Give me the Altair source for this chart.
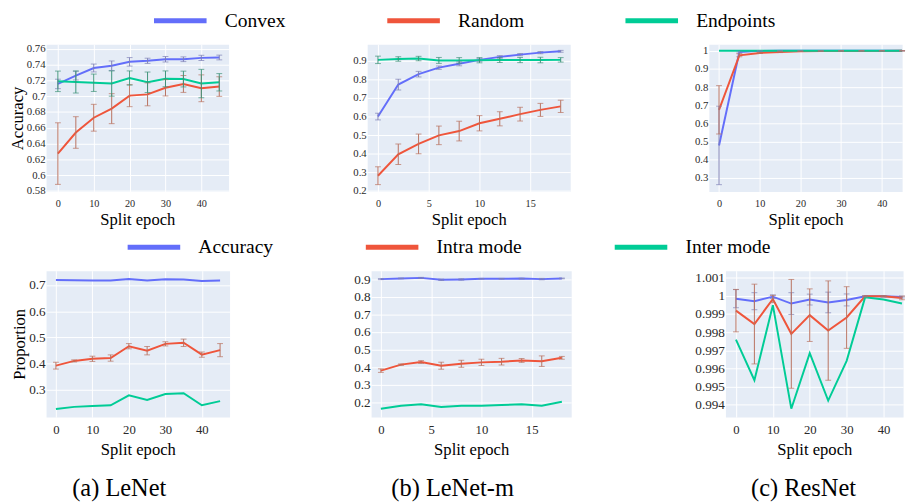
import altair as alt
import pandas as pd

# ---------------- data ----------------
lenet_epochs = [0, 5, 10, 15, 20, 25, 30, 35, 40, 45]
lenetm_epochs = [0, 2, 4, 6, 8, 10, 12, 14, 16, 18]
resnet_epochs = [0, 5, 10, 15, 20, 25, 30, 35, 40, 45]

top_series = ["Convex", "Random", "Endpoints"]
bottom_series = ["Accuracy", "Intra mode", "Inter mode"]

x_ticks_a = [0, 10, 20, 30, 40]
x_ticks_b = [0, 5, 10, 15]
y_ticks_a_top = [0.58, 0.6, 0.62, 0.64, 0.66, 0.68, 0.7, 0.72, 0.74, 0.76]
y_ticks_b_top = [0.2, 0.3, 0.4, 0.5, 0.6, 0.7, 0.8, 0.9]
y_ticks_c_top = [0.3, 0.4, 0.5, 0.6, 0.7, 0.8, 0.9, 1.0]
y_ticks_a_bot = [0.3, 0.4, 0.5, 0.6, 0.7]
y_ticks_b_bot = [0.2, 0.3, 0.4, 0.5, 0.6, 0.7, 0.8, 0.9]
y_ticks_c_bot = [0.994, 0.995, 0.996, 0.997, 0.998, 0.999, 1.0, 1.001]

# LeNet accuracy
lenet_convex = [0.7155, 0.726, 0.7357, 0.7386, 0.7435, 0.7448, 0.7468, 0.7468, 0.7485, 0.749]
lenet_convex_err = [0.006, 0.0055, 0.005, 0.006, 0.0054, 0.0033, 0.0035, 0.003, 0.0033, 0.003]
lenet_random = [0.6273, 0.654, 0.6727, 0.6842, 0.7007, 0.7023, 0.7106, 0.7155, 0.710, 0.7122]
lenet_random_err = [0.039, 0.020, 0.017, 0.019, 0.014, 0.0145, 0.0103, 0.0107, 0.017, 0.0124]
lenet_endpoints = [0.7188, 0.718, 0.717, 0.716, 0.723, 0.7176, 0.722, 0.7217, 0.716, 0.7176]
lenet_endpoints_err = [0.013, 0.014, 0.011, 0.016, 0.009, 0.013, 0.010, 0.010, 0.018, 0.011]

# LeNet-m accuracy
lenetm_convex = [0.600, 0.772, 0.828, 0.863, 0.884, 0.905, 0.921, 0.933, 0.944, 0.951]
lenetm_convex_err = [0.018, 0.029, 0.015, 0.009, 0.011, 0.008, 0.007, 0.006, 0.006, 0.005]
lenetm_random = [0.282, 0.397, 0.453, 0.499, 0.522, 0.564, 0.588, 0.613, 0.636, 0.655]
lenetm_random_err = [0.048, 0.055, 0.053, 0.050, 0.053, 0.041, 0.038, 0.037, 0.035, 0.033]
lenetm_endpoints = [0.905, 0.910, 0.912, 0.902, 0.902, 0.903, 0.904, 0.904, 0.904, 0.905]
lenetm_endpoints_err = [0.020, 0.012, 0.012, 0.016, 0.015, 0.014, 0.013, 0.014, 0.015, 0.012]

# ResNet accuracy
resnet_convex = [0.479, 0.993, 0.9993, 0.9996, 0.9998, 0.9998, 0.9999, 0.9999, 0.9999, 0.9999]
resnet_convex_err = [0.216, 0.005, 0.001, 0.0005, 0.0003, 0.0002, 0.0002, 0.0001, 0.0001, 0.0001]
resnet_random = [0.675, 0.975, 0.988, 0.993, 0.997, 0.998, 0.999, 0.9993, 0.9995, 0.9996]
resnet_random_err = [0.133, 0.008, 0.003, 0.003, 0.001, 0.0008, 0.0005, 0.0004, 0.0003, 0.0003]
resnet_endpoints = [0.9999, 1.0, 1.0, 1.0, 1.0, 1.0, 1.0, 1.0, 1.0, 1.0]
resnet_endpoints_err = [0, 0, 0, 0, 0, 0, 0, 0, 0, 0]

# LeNet proportions
lenet_acc = [0.719, 0.718, 0.717, 0.717, 0.723, 0.717, 0.722, 0.721, 0.715, 0.717]
lenet_acc_err = [0, 0, 0, 0, 0, 0, 0, 0, 0, 0]
lenet_intra = [0.393, 0.411, 0.419, 0.422, 0.467, 0.450, 0.476, 0.480, 0.435, 0.452]
lenet_intra_err = [0.013, 0.004, 0.010, 0.012, 0.010, 0.016, 0.008, 0.014, 0.010, 0.025]
lenet_inter = [0.228, 0.236, 0.239, 0.242, 0.280, 0.262, 0.285, 0.288, 0.242, 0.258]
lenet_inter_err = [0, 0, 0, 0, 0, 0, 0, 0, 0, 0]

# LeNet-m proportions
lenetm_acc = [0.902, 0.906, 0.909, 0.898, 0.900, 0.904, 0.904, 0.905, 0.902, 0.906]
lenetm_acc_err = [0.003, 0.002, 0.003, 0.004, 0.004, 0.002, 0.002, 0.002, 0.004, 0.002]
lenetm_intra = [0.380, 0.414, 0.429, 0.408, 0.419, 0.427, 0.431, 0.438, 0.434, 0.453]
lenetm_intra_err = [0.010, 0.004, 0.008, 0.020, 0.020, 0.018, 0.019, 0.011, 0.030, 0.008]
lenetm_inter = [0.162, 0.180, 0.188, 0.173, 0.180, 0.180, 0.184, 0.188, 0.180, 0.202]
lenetm_inter_err = [0, 0, 0, 0, 0, 0, 0, 0, 0, 0]

# ResNet proportions
resnet_acc = [0.99985, 0.99971, 0.99996, 0.99958, 0.9998, 0.99964, 0.99978, 0.99998, 0.99998, 0.99994]
resnet_acc_err = [0.0005, 0.00047, 0.0001, 0.0006, 0.0003, 0.00057, 0.00033, 0.00003, 0.00003, 0.00005]
resnet_intra = [0.99919, 0.99845, 0.99983, 0.99791, 0.99894, 0.99809, 0.99881, 0.99998, 0.99998, 0.99989]
resnet_intra_err = [0.00117, 0.0022, 0.0002, 0.003, 0.00145, 0.00274, 0.0017, 0.00003, 0.00003, 0.0001]
resnet_inter = [0.99759, 0.99535, 0.99949, 0.99378, 0.99684, 0.99423, 0.99642, 0.99992, 0.9998, 0.99958]
resnet_inter_err = [0, 0, 0, 0, 0, 0, 0, 0, 0, 0]

# ---------------- style ----------------
line_colors = ["#636EFA", "#EF553B", "#00CC96"]
bar_colors = ["#7E80B6", "#B8705E", "#3D9278"]
FONT = "Liberation Serif"


def make_legend(x, y, pad):
    return alt.Legend(
        title=None, orient="none", legendX=x, legendY=y, direction="horizontal",
        symbolType="stroke", symbolStrokeWidth=5, symbolSize=2900, clipHeight=20,
        labelFont=FONT, labelFontSize=20, labelColor="black", labelOffset=16,
        columnPadding=pad, padding=0, labelLimit=300,
    )


def panel(epochs, names, means, errs, xdom, ydom, xticks, yticks, w, h,
          ytitle, ylab, xlab, legend, xlabpad, xtitlepad, caption=None, cap_dx=0):
    rows = []
    for name, m, e in zip(names, means, errs):
        for xi, mi, ei in zip(epochs, m, e):
            rows.append({"epoch": xi, "value": mi, "lo": mi - ei, "hi": mi + ei,
                         "err": ei, "series": name})
    df = pd.DataFrame(rows)
    base = alt.Chart(df)

    xaxis = alt.Axis(values=xticks, title="Split epoch", labelFontSize=xlab,
                     labelFlush=False, labelPadding=xlabpad, titlePadding=xtitlepad)
    yaxis = alt.Axis(values=yticks, title=ytitle if ytitle else "", format="~g",
                     labelFontSize=ylab, labelFlush=False, labelPadding=1, titlePadding=0)
    xs = alt.Scale(domain=xdom, nice=False, zero=False)
    ys = alt.Scale(domain=ydom, nice=False, zero=False)

    def X():
        return alt.X("epoch:Q", scale=xs, axis=xaxis)

    def Y(field):
        return alt.Y(field, scale=ys, axis=yaxis)

    layers = []
    for name, bc in zip(names, bar_colors):
        sub = base.transform_filter(alt.datum.series == name).transform_filter(alt.datum.err > 0)
        layers.append(sub.mark_rule(color=bc, strokeWidth=1).encode(x=X(), y=Y("lo:Q"), y2="hi:Q"))
        layers.append(sub.mark_tick(color=bc, orient="horizontal", size=6, thickness=1).encode(x=X(), y=Y("lo:Q")))
        layers.append(sub.mark_tick(color=bc, orient="horizontal", size=6, thickness=1).encode(x=X(), y=Y("hi:Q")))
    line = base.mark_line(strokeWidth=2).encode(
        x=X(), y=Y("value:Q"),
        color=alt.Color("series:N", scale=alt.Scale(domain=names, range=line_colors), legend=legend),
    )
    layers.insert(0, line)
    ch = alt.layer(*layers).properties(width=w, height=h)
    if caption:
        ch = ch.properties(title=alt.TitleParams(caption, orient="bottom", font=FONT, fontSize=25,
                                                 fontWeight="normal", color="black", dx=cap_dx, offset=20))
    return ch


leg_top = make_legend(108, -34, 101)
leg_bot = make_legend(81, -34, 92)

tl = panel(lenet_epochs, top_series,
           [lenet_convex, lenet_random, lenet_endpoints],
           [lenet_convex_err, lenet_random_err, lenet_endpoints_err],
           [-3.3, 47.6], [0.5791, 0.7658], x_ticks_a, y_ticks_a_top, 187, 151,
           "Accuracy", 11, 10.5, leg_top, 7, 3)
tm = panel(lenetm_epochs, top_series,
           [lenetm_convex, lenetm_random, lenetm_endpoints],
           [lenetm_convex_err, lenetm_random_err, lenetm_endpoints_err],
           [-1.06, 18.94], [0.1964, 0.989], x_ticks_b, y_ticks_b_top, 208, 151,
           None, 11, 10.5, leg_top, 7, 3)
tr = panel(resnet_epochs, top_series,
           [resnet_convex, resnet_random, resnet_endpoints],
           [resnet_convex_err, resnet_random_err, resnet_endpoints_err],
           [-2.5, 45.0], [0.2248, 1.036], x_ticks_a, y_ticks_c_top, 198, 151,
           None, 11, 10.5, leg_top, 7, 3)

bl = panel(lenet_epochs, bottom_series,
           [lenet_acc, lenet_intra, lenet_inter],
           [lenet_acc_err, lenet_intra_err, lenet_inter_err],
           [-2.7, 47.6], [0.197, 0.7546], x_ticks_a, y_ticks_a_bot, 188, 150,
           "Proportion", 13.5, 13, leg_bot, 7, 5, "(a) LeNet", -19)
bm = panel(lenetm_epochs, bottom_series,
           [lenetm_acc, lenetm_intra, lenetm_inter],
           [lenetm_acc_err, lenetm_intra_err, lenetm_inter_err],
           [-0.97, 18.93], [0.1148, 0.950], x_ticks_b, y_ticks_b_bot, 205, 150,
           None, 13.5, 13, leg_bot, 7, 5, "(b) LeNet-m", -19)
br = panel(resnet_epochs, bottom_series,
           [resnet_acc, resnet_intra, resnet_inter],
           [resnet_acc_err, resnet_intra_err, resnet_inter_err],
           [-2.85, 45.3], [0.993316, 1.001393], x_ticks_a, y_ticks_c_bot, 182, 150,
           None, 13.5, 13, leg_bot, 7, 5, "(c) ResNet", -11)

top_row = alt.hconcat(tl, tm, tr, spacing=125)
bot_row = alt.hconcat(bl, bm, br, spacing=125)

chart = alt.vconcat(top_row, bot_row, spacing=10).resolve_scale(color="independent").properties(
    padding={"top": -3, "left": 0, "right": 0, "bottom": 0}
).configure_view(fill="#E5ECF6", stroke="transparent").configure_axis(
    domain=False, ticks=False, grid=True, gridColor="white", gridWidth=1,
    labelFont=FONT, titleFont=FONT, labelColor="#2a2a2a", titleColor="black",
    titleFontWeight="normal", titleFontSize=17,
)

chart.save("out.html", embed_options={"renderer": "svg", "actions": False})
